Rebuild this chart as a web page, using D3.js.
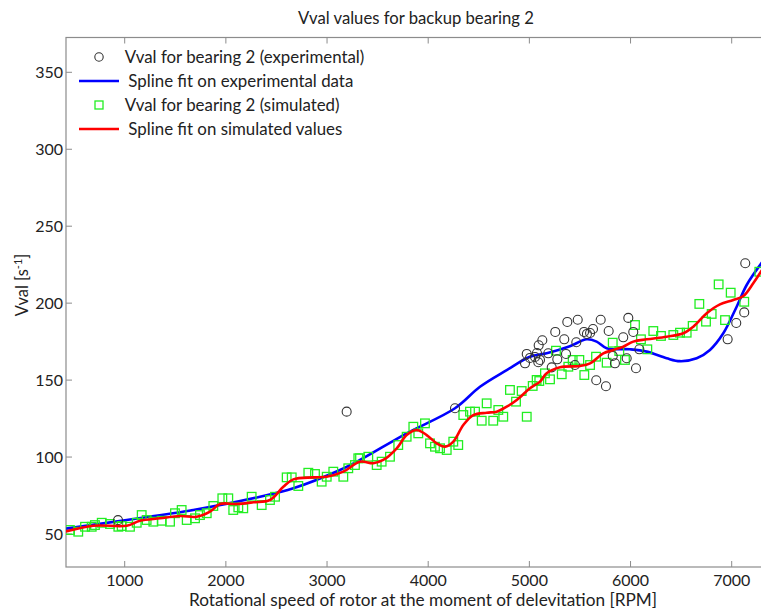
<!DOCTYPE html>
<html><head><meta charset="utf-8">
<script src="https://cdn.jsdelivr.net/npm/d3@7"></script>
<style>body{margin:0;background:#fff}text{font-family:Lato,"Liberation Sans",sans-serif;fill:#222}</style>
</head><body><svg id="c" width="761" height="609"></svg>
<script>
// ---- data ----
const xTicks = [1000,2000,3000,4000,5000,6000,7000];
const yTicks = [50,100,150,200,250,300,350];
const expX = [934,3194,4265,5375,5478,5705,5978,5256,5128,5092,5345,5540,5569,5600,5629,5784,6027,5928,5464,4974,5006,5056,5075,5105,5187,5276,5362,4957,5088,5221,5451,5824,5846,5962,6054,6087,5661,5757,7134,7124,7045,6960];
const expY = [59,129.5,131.7,187.8,189.2,189.2,190.4,181.3,175.9,172.6,176.5,181.3,180,180.6,183.2,181.9,181.3,177.8,174.6,167,164.4,165,167.6,163.1,167.4,163.5,167,160.9,161.6,158.3,159.8,165.7,160.9,164.2,157.7,170,149.9,146,225.9,194,187.1,176.5];
const simX = [459,541,608,674,706,773,855,937,970,1052,1119,1168,1217,1283,1366,1448,1497,1563,1613,1695,1744,1811,1876,1965,2024,2073,2123,2172,2255,2354,2436,2486,2601,2651,2716,2815,2881,2947,2997,3062,3161,3210,3276,3309,3326,3408,3491,3540,3622,3704,3787,3853,3902,3968,4018,4067,4117,4183,4248,4297,4347,4413,4463,4529,4578,4643,4693,4742,4808,4868,4924,4974,5033,5072,5098,5154,5204,5263,5320,5385,5428,5494,5543,5600,5659,5764,5824,5889,5945,6044,6103,6166,6225,6301,6423,6489,6555,6614,6680,6746,6802,6871,6934,6990,7124,7273];
const simY = [52.6,51.5,54.7,54.7,55.8,57.3,56.5,54.7,55.2,54.7,57.3,62.3,59.1,58,58.6,58,63.5,65.6,59.1,60.2,62.3,63.5,68.2,73.2,73.2,65.6,67.3,66.7,74.2,68.8,72.1,74.2,86.8,86.8,81.2,89.8,89,84,87.2,90.5,87.2,92.7,94.8,99.2,99.2,100.2,94.8,97,100.2,107.8,113.2,119.7,115.4,121.9,108.9,106.7,105.7,104.6,110,107.8,127.3,129.5,129.5,123.6,134.9,123.6,130.6,126.2,143.6,136,142.9,126.2,146.2,150.1,149.4,154.4,150.5,169.1,153.8,158.7,163.1,163.1,153.3,159.8,165.2,161.3,174.3,168.9,163.1,185.8,176.5,170,181.9,178.7,179.3,180.8,180.8,185.2,199.5,188,193,212.2,189,206.8,200.9,220.4];
const fitExpX = [400,1020,1678,2337,2667,3128,3326,3787,4265,4512,4776,5006,5171,5400,5567,5665,5764,5995,6160,6357,6489,6654,6785,6917,7049,7148,7300];
const fitExpY = [53.3,59.1,65.6,74.2,79.7,91.6,98.1,115.4,131.7,145.7,156.5,165.2,167.4,172,176.5,175,170.7,170,168.5,164.2,162.3,164.2,169.6,180.4,197.7,211.8,226.5];
const fitSimX = [400,690,1020,1151,1349,1547,1712,1843,1942,2107,2271,2436,2568,2667,2864,2997,3161,3326,3457,3556,3689,3787,3886,3985,4084,4166,4248,4347,4446,4578,4677,4776,4875,5006,5105,5171,5303,5501,5600,5731,5830,5928,6027,6160,6357,6522,6621,6753,6884,7016,7115,7213,7300];
const fitSimY = [51.3,55.4,55.4,58.6,60.2,61.7,61.2,64.5,69.5,69.5,70.6,72.1,80.7,85.5,86.8,87.2,90.5,97,96,98.1,105.7,114.3,117.6,114.3,108.9,106.7,110,120.8,127.3,128.8,129.5,132.7,137.1,144.7,149,154.4,158.3,159.2,160.9,167.4,169.6,171.7,175,176.5,178.2,180.4,184.7,193.4,199.2,202,204.6,212.9,221.5];
const legendLabels = ["Vval for bearing 2 (experimental)","Spline fit on experimental data","Vval for bearing 2 (simulated)","Spline fit on simulated values"];

// ---- layout ----
const svg = d3.select("#c");
const L=66, T=37.5, R=775, B=567;
const x = d3.scaleLinear().domain([1000,7000]).range([124.7,731.7]);
const y = d3.scaleLinear().domain([50,350]).range([534,72.3]);
svg.append("rect").attr("width",761).attr("height",609).attr("fill","#fff");
svg.append("defs").append("clipPath").attr("id","clip").append("rect")
  .attr("x",L).attr("y",T).attr("width",R-L).attr("height",B-T);

// fit a text's font size to a measured target width
function fitW(sel, w){
  const cur = sel.node().getComputedTextLength();
  const fs = +sel.attr("font-size");
  sel.attr("font-size", (fs*w/cur).toFixed(2));
  return fs*w/cur;
}

const axisCol="#8c8c8c";
svg.append("rect").attr("x",L).attr("y",T).attr("width",R-L).attr("height",B-T)
  .attr("fill","none").attr("stroke",axisCol).attr("stroke-width",1.2);

const g = svg.append("g");
xTicks.forEach(t=>{
  g.append("line").attr("x1",x(t)).attr("x2",x(t)).attr("y1",B).attr("y2",B-6).attr("stroke",axisCol);
  g.append("line").attr("x1",x(t)).attr("x2",x(t)).attr("y1",T).attr("y2",T+6).attr("stroke",axisCol);
  g.append("text").attr("x",x(t)).attr("y",585.5).attr("text-anchor","middle").attr("font-size",16).text(t);
});
yTicks.forEach(t=>{
  g.append("line").attr("x1",L).attr("x2",L+6).attr("y1",y(t)).attr("y2",y(t)).attr("stroke",axisCol);
  g.append("text").attr("x",63).attr("y",y(t)).attr("dy","0.36em").attr("text-anchor","end").attr("font-size",16).text(t);
});

// titles
const tt = svg.append("text").attr("x",416).attr("y",24).attr("text-anchor","middle").attr("font-size",16).text("Vval values for backup bearing 2");
fitW(tt,236);
const xl = svg.append("text").attr("x",423).attr("y",605.5).attr("text-anchor","middle").attr("font-size",16).text("Rotational speed of rotor at the moment of delevitation [RPM]");
fitW(xl,468);
const yl = svg.append("text").attr("transform","translate(28,285) rotate(-90)").attr("text-anchor","middle").attr("font-size",16.5);
yl.append("tspan").text("Vval [s");
yl.append("tspan").attr("font-size",11).attr("dy",-6).text("-1");
yl.append("tspan").attr("dy",6).text("]");

// plot
const p = svg.append("g").attr("clip-path","url(#clip)");
const line = d3.line().x(d=>x(d[0])).y(d=>y(d[1])).curve(d3.curveCatmullRom.alpha(0.5));
p.append("path").datum(fitExpX.map((v,i)=>[v,fitExpY[i]])).attr("d",line)
  .attr("fill","none").attr("stroke","#0000ff").attr("stroke-width",2.6);
p.selectAll("rect.sim").data(simX.map((v,i)=>[v,simY[i]])).join("rect").attr("class","sim")
  .attr("x",d=>x(d[0])-4.3).attr("y",d=>y(d[1])-4.3).attr("width",8.6).attr("height",8.6)
  .attr("fill","none").attr("stroke","#22ee22").attr("stroke-width",1.3);
p.selectAll("circle.exp").data(expX.map((v,i)=>[v,expY[i]])).join("circle").attr("class","exp")
  .attr("cx",d=>x(d[0])).attr("cy",d=>y(d[1])).attr("r",4.5)
  .attr("fill","none").attr("stroke","#333").attr("stroke-width",1.1);
p.append("path").datum(fitSimX.map((v,i)=>[v,fitSimY[i]])).attr("d",line)
  .attr("fill","none").attr("stroke","#ff0000").attr("stroke-width",2.6);

// legend
const ly=[57,81,105,129];
const lg = svg.append("g");
lg.append("circle").attr("cx",99).attr("cy",ly[0]).attr("r",4.2).attr("fill","none").attr("stroke","#333").attr("stroke-width",1.1);
lg.append("line").attr("x1",79).attr("x2",119).attr("y1",ly[1]).attr("y2",ly[1]).attr("stroke","#0000ff").attr("stroke-width",2.6);
lg.append("rect").attr("x",95).attr("y",ly[2]-4).attr("width",8).attr("height",8).attr("fill","none").attr("stroke","#22ee22").attr("stroke-width",1.3);
lg.append("line").attr("x1",79).attr("x2",119).attr("y1",ly[3]).attr("y2",ly[3]).attr("stroke","#ff0000").attr("stroke-width",2.6);
const lt = legendLabels.map((t,i)=>lg.append("text").attr("x",i%2? 128.3:124.7).attr("y",ly[i]).attr("dy","0.35em").attr("font-size",16).text(t));
const fs = fitW(lt[0],240);
lt.forEach(s=>s.attr("font-size",fs.toFixed(2)));
</script></body></html>
